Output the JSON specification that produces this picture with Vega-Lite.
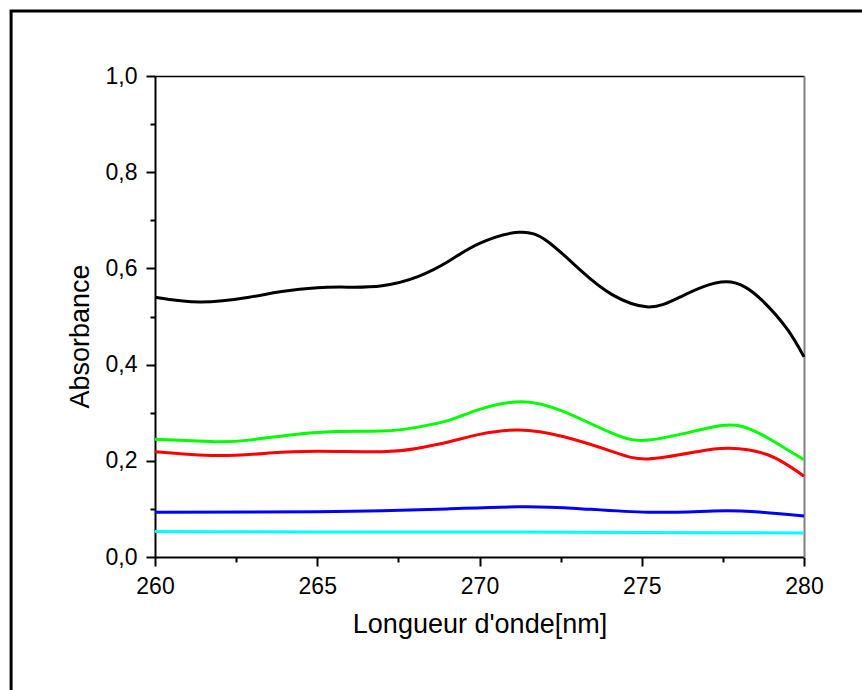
{
  "$schema": "https://vega.github.io/schema/vega-lite/v6.json",
  "width": 649,
  "height": 481,
  "autosize": {"type": "none"},
  "padding": {"left": 155, "top": 76, "right": 58, "bottom": 133},
  "background": "white",
  "config": {
    "view": {"stroke": null},
    "font": "Liberation Sans",
    "axis": {"grid": false, "labelFont": "Liberation Sans", "titleFont": "Liberation Sans", "labelColor": "black", "titleColor": "black", "titleFontWeight": "normal"}
  },
  "datasets": {
    "frame": [{"x1": 255.565, "x2": 283.5, "y1": -0.4, "y2": 1.1352}],
    "spectra": [
      {"series": "s1", "wl": 260.0, "abs": 0.540},
      {"series": "s1", "wl": 261.4, "abs": 0.530},
      {"series": "s1", "wl": 262.9, "abs": 0.540},
      {"series": "s1", "wl": 263.9, "abs": 0.552},
      {"series": "s1", "wl": 265.0, "abs": 0.560},
      {"series": "s1", "wl": 266.0, "abs": 0.561},
      {"series": "s1", "wl": 267.0, "abs": 0.564},
      {"series": "s1", "wl": 268.1, "abs": 0.583},
      {"series": "s1", "wl": 269.1, "abs": 0.617},
      {"series": "s1", "wl": 270.0, "abs": 0.652},
      {"series": "s1", "wl": 271.2, "abs": 0.675},
      {"series": "s1", "wl": 272.1, "abs": 0.656},
      {"series": "s1", "wl": 273.1, "abs": 0.597},
      {"series": "s1", "wl": 274.1, "abs": 0.545},
      {"series": "s1", "wl": 275.2, "abs": 0.520},
      {"series": "s1", "wl": 276.2, "abs": 0.541},
      {"series": "s1", "wl": 277.6, "abs": 0.572},
      {"series": "s1", "wl": 278.7, "abs": 0.534},
      {"series": "s1", "wl": 279.5, "abs": 0.472},
      {"series": "s1", "wl": 280.0, "abs": 0.416},
      {"series": "s2", "wl": 260.0, "abs": 0.245},
      {"series": "s2", "wl": 261.7, "abs": 0.240},
      {"series": "s2", "wl": 262.9, "abs": 0.243},
      {"series": "s2", "wl": 265.0, "abs": 0.259},
      {"series": "s2", "wl": 267.0, "abs": 0.262},
      {"series": "s2", "wl": 268.1, "abs": 0.270},
      {"series": "s2", "wl": 269.1, "abs": 0.285},
      {"series": "s2", "wl": 270.0, "abs": 0.307},
      {"series": "s2", "wl": 271.3, "abs": 0.323},
      {"series": "s2", "wl": 272.6, "abs": 0.302},
      {"series": "s2", "wl": 274.1, "abs": 0.257},
      {"series": "s2", "wl": 275.2, "abs": 0.243},
      {"series": "s2", "wl": 276.7, "abs": 0.263},
      {"series": "s2", "wl": 277.9, "abs": 0.274},
      {"series": "s2", "wl": 278.9, "abs": 0.247},
      {"series": "s2", "wl": 280.0, "abs": 0.202},
      {"series": "s3", "wl": 260.0, "abs": 0.219},
      {"series": "s3", "wl": 261.9, "abs": 0.211},
      {"series": "s3", "wl": 263.5, "abs": 0.216},
      {"series": "s3", "wl": 265.0, "abs": 0.220},
      {"series": "s3", "wl": 267.0, "abs": 0.219},
      {"series": "s3", "wl": 268.1, "abs": 0.226},
      {"series": "s3", "wl": 269.1, "abs": 0.240},
      {"series": "s3", "wl": 270.0, "abs": 0.255},
      {"series": "s3", "wl": 271.2, "abs": 0.264},
      {"series": "s3", "wl": 272.6, "abs": 0.250},
      {"series": "s3", "wl": 274.1, "abs": 0.219},
      {"series": "s3", "wl": 275.2, "abs": 0.204},
      {"series": "s3", "wl": 276.7, "abs": 0.219},
      {"series": "s3", "wl": 277.7, "abs": 0.226},
      {"series": "s3", "wl": 278.9, "abs": 0.212},
      {"series": "s3", "wl": 280.0, "abs": 0.168},
      {"series": "s4", "wl": 260.0, "abs": 0.093},
      {"series": "s4", "wl": 265.0, "abs": 0.094},
      {"series": "s4", "wl": 267.0, "abs": 0.096},
      {"series": "s4", "wl": 269.0, "abs": 0.100},
      {"series": "s4", "wl": 271.2, "abs": 0.1045},
      {"series": "s4", "wl": 273.0, "abs": 0.101},
      {"series": "s4", "wl": 275.2, "abs": 0.093},
      {"series": "s4", "wl": 277.2, "abs": 0.0956},
      {"series": "s4", "wl": 278.5, "abs": 0.094},
      {"series": "s4", "wl": 280.0, "abs": 0.085},
      {"series": "s5", "wl": 260.0, "abs": 0.053},
      {"series": "s5", "wl": 265.0, "abs": 0.052},
      {"series": "s5", "wl": 270.0, "abs": 0.052},
      {"series": "s5", "wl": 275.0, "abs": 0.051},
      {"series": "s5", "wl": 280.0, "abs": 0.050}
    ]
  },
  "layer": [
    {
      "data": {"name": "frame"},
      "mark": {"type": "rect", "fill": null, "stroke": "black", "strokeWidth": 3, "clip": false},
      "encoding": {
        "x": {"field": "x1", "type": "quantitative", "scale": {"domain": [260, 280], "nice": false, "zero": false},
              "axis": {"orient": "top", "domainColor": "black", "domainWidth": 1.5, "ticks": false, "labels": false, "title": null, "grid": false}},
        "x2": {"field": "x2"},
        "y": {"field": "y1", "type": "quantitative", "scale": {"domain": [0, 1], "nice": false, "zero": false},
              "axis": {"orient": "right", "domainColor": "#808080", "domainWidth": 2, "ticks": false, "labels": false, "title": null, "grid": false}},
        "y2": {"field": "y2"}
      }
    },
    {
      "data": {"name": "spectra"},
      "mark": {"type": "line", "strokeWidth": 3, "interpolate": "natural"},
      "encoding": {
        "x": {"field": "wl", "type": "quantitative", "scale": {"domain": [260, 280], "nice": false, "zero": false},
              "axis": {"orient": "bottom", "title": "Longueur d'onde[nm]",
                       "values": [260, 262.5, 265, 267.5, 270, 272.5, 275, 277.5, 280],
                       "labelExpr": "datum.value % 5 === 0 ? format(datum.value, 'd') : ''",
                       "domainColor": "black", "domainWidth": 2, "tickColor": "black", "tickWidth": 2,
                       "tickSize": {"condition": {"test": "datum.value % 5 === 0", "value": 9}, "value": 5},
                       "labelFontSize": 23, "labelPadding": 9, "labelFlush": false, "labelOverlap": false,
                       "titleFontSize": 27, "titleY": 75, "titleBaseline": "alphabetic"}},
        "y": {"field": "abs", "type": "quantitative", "scale": {"domain": [0, 1], "nice": false, "zero": false},
              "axis": {"orient": "left", "title": "Absorbance",
                       "values": [0, 0.1, 0.2, 0.3, 0.4, 0.5, 0.6, 0.7, 0.8, 0.9, 1.0],
                       "labelExpr": "round(datum.value * 10) % 2 === 0 ? replace(format(datum.value, '.1f'), '.', ',') : ''",
                       "domainColor": "black", "domainWidth": 2, "tickColor": "black", "tickWidth": 2,
                       "tickSize": {"condition": {"test": "round(datum.value * 10) % 2 === 0", "value": 9}, "value": 5},
                       "labelFontSize": 23, "labelPadding": 9, "labelFlush": false, "labelOverlap": false,
                       "titleFontSize": 27, "titleX": -66.7, "titleY": 260, "titleAngle": -90, "titleAlign": "center", "titleBaseline": "alphabetic"}},
        "color": {"field": "series", "type": "nominal", "legend": null,
                  "scale": {"domain": ["s1", "s2", "s3", "s4", "s5"], "range": ["#000000", "#00ff00", "#ff0000", "#0000ff", "#00ffff"]}},
        "order": {"field": "wl", "type": "quantitative"}
      }
    }
  ],
  "resolve": {"axis": {"x": "independent", "y": "independent"}}
}
